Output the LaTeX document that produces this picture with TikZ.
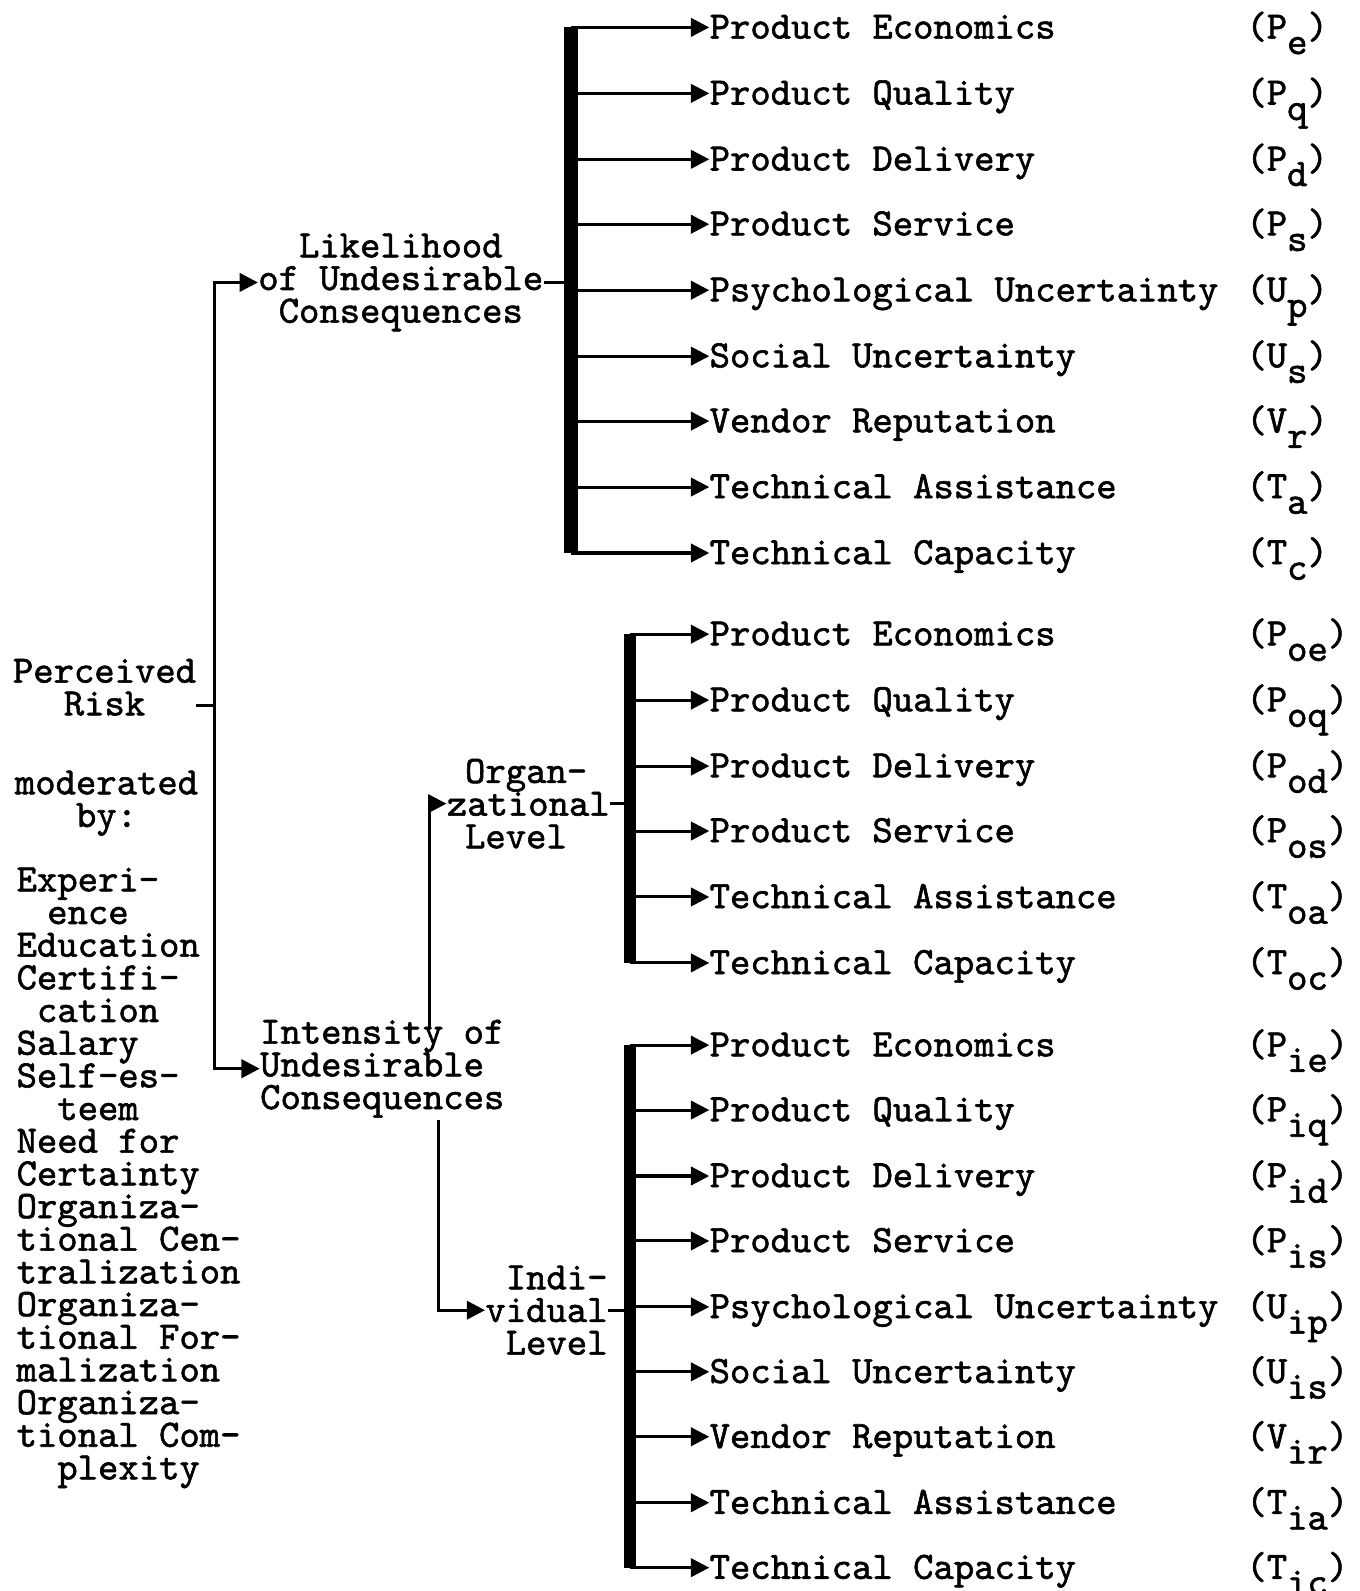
\documentclass[tikz,border=0pt]{standalone}
\usepackage{fontspec}
\usetikzlibrary{arrows.meta}
\newfontfamily\typewriter[Extension=.otf, FakeBold=1.5]{lmmono10-regular}
\newcommand{\low}[1]{\raisebox{-0.4em}{#1}}
\newcommand{\twfont}{\typewriter\fontsize{19.1pt}{16.1pt}\selectfont\lineskiplimit=-20pt\relax}

\tikzstyle{item} = [anchor=west, inner sep=0pt, text height=11pt, text depth=0pt]
\tikzstyle{symbol} = [anchor=west, inner sep=0pt, text height=11pt, text depth=0pt]
\tikzstyle{heading} = [inner sep=0pt, align=center, anchor=base]
\tikzstyle{list} = [inner sep=0pt, align=left, anchor=base west]
\tikzstyle{line} = [line width=1.5pt]
\tikzstyle{bar} = [line width=6pt]
\tikzstyle{arrow} = [line width=1.5pt, -{Triangle[length=9pt,width=9pt]}]

\begin{document}
\begin{tikzpicture}[x=0.5pt, y=-0.5pt, font=\twfont]
\useasboundingbox (0,0) rectangle (1340,1568);

\node (risk) [heading] at (103,705) {Perceived\\Risk};
\node (mod) [heading] at (105,815) {moderated\\by:};
\node (moder) [list] at (16,1458) {Experi-\\\hspace*{0.79em}ence\\Education\\Certifi-\\\hspace*{0.525em}cation\\Salary\\Self-es-\\\hspace*{1.05em}teem\\Need for\\Certainty\\Organiza-\\tional Cen-\\tralization\\Organiza-\\tional For-\\malization\\Organiza-\\tional Com-\\\hspace*{1.05em}plexity};

\node (likeli) [heading] at (395,318) {Likelihood\\of Undesirable\\Consequences};
\node (intens) [list] at (256,1093) {Intensity of\\Undesirable\\Consequences};
\node (organ) [list] at (440,836) {\hspace*{0.47em}Organ-\\zational\\\hspace*{0.47em}Level};
\node (indiv) [list] at (478,1335) {\hspace*{0.525em}Indi-\\vidual\\\hspace*{0.525em}Level};

\coordinate (spine) at (211,695);
\coordinate (ibr) at (423,1012);
\coordinate (ibl) at (432,1104);
\coordinate (bar1) at (563,0);
\coordinate (bar2) at (621,0);
\coordinate (bar3) at (621,0);

\node (pe) [item] at (699,27) {Product Economics};
\node (pq) [item] at (699,92) {Product Quality};
\node (pd) [item] at (699,157) {Product Delivery};
\node (ps) [item] at (699,221) {Product Service};
\node (up) [item] at (699,286) {Psychological Uncertainty};
\node (us) [item] at (699,351) {Social Uncertainty};
\node (vr) [item] at (699,415) {Vendor Reputation};
\node (ta) [item] at (699,480) {Technical Assistance};
\node (tc) [item] at (699,545) {Technical Capacity};

\node (poe) [item] at (699,625) {Product Economics};
\node (poq) [item] at (699,690) {Product Quality};
\node (pod) [item] at (699,755) {Product Delivery};
\node (pos) [item] at (699,819) {Product Service};
\node (toa) [item] at (699,884) {Technical Assistance};
\node (toc) [item] at (699,949) {Technical Capacity};

\node (pie) [item] at (699,1030) {Product Economics};
\node (piq) [item] at (699,1094) {Product Quality};
\node (pid) [item] at (699,1159) {Product Delivery};
\node (pis) [item] at (699,1223) {Product Service};
\node (uip) [item] at (699,1288) {Psychological Uncertainty};
\node (uis) [item] at (699,1352) {Social Uncertainty};
\node (vir) [item] at (699,1416) {Vendor Reputation};
\node (tia) [item] at (699,1481) {Technical Assistance};
\node (tic) [item] at (699,1545) {Technical Capacity};

\node (spe) [symbol] at (1228,27) {(P\low{e})};
\node (spq) [symbol] at (1228,92) {(P\low{q})};
\node (spd) [symbol] at (1228,157) {(P\low{d})};
\node (sps) [symbol] at (1228,221) {(P\low{s})};
\node (sup) [symbol] at (1228,286) {(U\low{p})};
\node (sus) [symbol] at (1228,351) {(U\low{s})};
\node (svr) [symbol] at (1228,415) {(V\low{r})};
\node (sta) [symbol] at (1228,480) {(T\low{a})};
\node (stc) [symbol] at (1228,545) {(T\low{c})};

\node (spoe) [symbol] at (1228,625) {(P\low{oe})};
\node (spoq) [symbol] at (1228,690) {(P\low{oq})};
\node (spod) [symbol] at (1228,755) {(P\low{od})};
\node (spos) [symbol] at (1228,819) {(P\low{os})};
\node (stoa) [symbol] at (1228,884) {(T\low{oa})};
\node (stoc) [symbol] at (1228,949) {(T\low{oc})};

\node (spie) [symbol] at (1228,1030) {(P\low{ie})};
\node (spiq) [symbol] at (1228,1094) {(P\low{iq})};
\node (spid) [symbol] at (1228,1159) {(P\low{id})};
\node (spis) [symbol] at (1228,1223) {(P\low{is})};
\node (suip) [symbol] at (1228,1288) {(U\low{ip})};
\node (suis) [symbol] at (1228,1352) {(U\low{is})};
\node (svir) [symbol] at (1228,1416) {(V\low{ir})};
\node (stia) [symbol] at (1228,1481) {(T\low{ia})};
\node (stic) [symbol] at (1228,1545) {(T\low{ic})};

\draw [line] (risk.east |- spine) -- (spine);
\draw [arrow] (spine) |- (likeli.west);
\draw [arrow] (spine) |- (intens.west);
\draw [arrow] (ibr) |- (organ.west);
\draw [arrow] (ibl) |- (indiv.west);
\draw [line] (likeli.east) -- (likeli.east -| bar1);
\draw [line] (organ.east) -- (organ.east -| bar2);
\draw [line] (indiv.east) -- (indiv.east -| bar3);

\draw [bar, line width=7pt] (pe.west -| bar1) -- (tc.west -| bar1);
\draw [bar] (poe.west -| bar2) -- (toc.west -| bar2);
\draw [bar] (pie.west -| bar3) -- (tic.west -| bar3);

\draw [arrow] (pe.west -| bar1) -- (pe.west);
\draw [arrow] (pq.west -| bar1) -- (pq.west);
\draw [arrow] (pd.west -| bar1) -- (pd.west);
\draw [arrow] (ps.west -| bar1) -- (ps.west);
\draw [arrow] (up.west -| bar1) -- (up.west);
\draw [arrow] (us.west -| bar1) -- (us.west);
\draw [arrow] (vr.west -| bar1) -- (vr.west);
\draw [arrow] (ta.west -| bar1) -- (ta.west);
\draw [arrow] (tc.west -| bar1) -- (tc.west);

\draw [arrow] (poe.west -| bar2) -- (poe.west);
\draw [arrow] (poq.west -| bar2) -- (poq.west);
\draw [arrow] (pod.west -| bar2) -- (pod.west);
\draw [arrow] (pos.west -| bar2) -- (pos.west);
\draw [arrow] (toa.west -| bar2) -- (toa.west);
\draw [arrow] (toc.west -| bar2) -- (toc.west);

\draw [arrow] (pie.west -| bar3) -- (pie.west);
\draw [arrow] (piq.west -| bar3) -- (piq.west);
\draw [arrow] (pid.west -| bar3) -- (pid.west);
\draw [arrow] (pis.west -| bar3) -- (pis.west);
\draw [arrow] (uip.west -| bar3) -- (uip.west);
\draw [arrow] (uis.west -| bar3) -- (uis.west);
\draw [arrow] (vir.west -| bar3) -- (vir.west);
\draw [arrow] (tia.west -| bar3) -- (tia.west);
\draw [arrow] (tic.west -| bar3) -- (tic.west);
\end{tikzpicture}
\end{document}
